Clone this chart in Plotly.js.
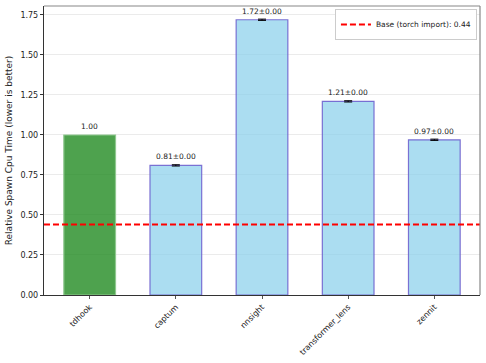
<!DOCTYPE html>
<html><head><meta charset="utf-8">
<script src="https://cdn.plot.ly/plotly-3.0.1.min.js"></script>
<style>html,body{margin:0;padding:0;background:#fff}#c{width:486px;height:363px}</style>
</head><body><div id="c"></div>
<script>
const categories = ["tdhook", "captum", "nnsight", "transformer_lens", "zennit"];
const values = [1.00, 0.81, 1.72, 1.21, 0.97];
const errors = [null, 0.004, 0.004, 0.004, 0.004];
const labels = ["1.00", "0.81±0.00", "1.72±0.00", "1.21±0.00", "0.97±0.00"];
const baseValue = 0.44;
const baseLabel = "Base (torch import): 0.44";
const yTicks = [0, 0.25, 0.5, 0.75, 1.0, 1.25, 1.5, 1.75];
const yTickText = ["0.00","0.25","0.50","0.75","1.00","1.25","1.50","1.75"];

const idx = categories.map((_, i) => i);
const fills = categories.map((c, i) => i === 0 ? "rgba(34,139,34,0.8)" : "rgba(135,206,235,0.7)");
const edges = categories.map((c, i) => i === 0 ? "rgba(144,200,144,1)" : "rgba(106,90,205,0.85)");

const traces = [{
  type: "bar", x: idx, y: values, width: 0.6,
  marker: {color: fills, line: {color: edges, width: 1.2}},
  showlegend: false, hoverinfo: "none"
}, {
  type: "scatter", mode: "markers", x: idx.slice(1), y: values.slice(1),
  marker: {size: 0.1, color: "rgba(0,0,0,0)"},
  error_y: {type: "data", array: errors.slice(1), visible: true, color: "black", thickness: 1, width: 4},
  showlegend: false, hoverinfo: "none"
}, {
  type: "scatter", mode: "lines", x: [-0.53, 4.53], y: [baseValue, baseValue],
  line: {color: "red", width: 2, dash: "6px,3px"}, name: baseLabel, showlegend: true
}];

const annotations = idx.map(i => ({
  x: i, y: values[i], xref: "x", yref: "y", text: labels[i], showarrow: false,
  yanchor: "bottom", yshift: 2, font: {size: 7.5, color: "#222", family: "DejaVu Sans"}
}));

const layout = {
  width: 486, height: 363,
  margin: {l: 44, r: 6, t: 6, b: 68},
  paper_bgcolor: "#fff", plot_bgcolor: "#fff",
  font: {family: "DejaVu Sans", size: 8, color: "#222"},
  xaxis: {range: [-0.53, 4.53], tickvals: idx, ticktext: categories, tickangle: -45,
    showgrid: false, zeroline: false, showline: true, linecolor: "#333", linewidth: 1.2,
    ticks: "outside", ticklen: 3, tickcolor: "#555", mirror: false, tickfont: {size: 8}},
  yaxis: {range: [0, 1.806], tickvals: yTicks, ticktext: yTickText,
    showgrid: true, gridcolor: "#ebebeb", gridwidth: 1, zeroline: false,
    showline: true, linecolor: "#333", linewidth: 1.2, ticks: "outside", ticklen: 3, tickcolor: "#333",
    tickfont: {size: 8},
    title: {text: "Relative Spawn Cpu Time (lower is better)", font: {size: 9}, standoff: 6}},
  legend: {x: 0.993, y: 0.99, xanchor: "right", yanchor: "top", bgcolor: "#fff",
    bordercolor: "#ccc", borderwidth: 1, font: {size: 7.5}, itemwidth: 30, tracegroupgap: 0},
  annotations: annotations,
  shapes: [
    {type: "line", xref: "paper", yref: "paper", x0: 0, x1: 1, y0: 1, y1: 1, line: {color: "#888", width: 1.2}},
    {type: "line", xref: "paper", yref: "paper", x0: 1, x1: 1, y0: 0, y1: 1, line: {color: "#888", width: 1.2}}
  ]
};
Plotly.newPlot("c", traces, layout, {displayModeBar: false, staticPlot: true});
</script></body></html>
